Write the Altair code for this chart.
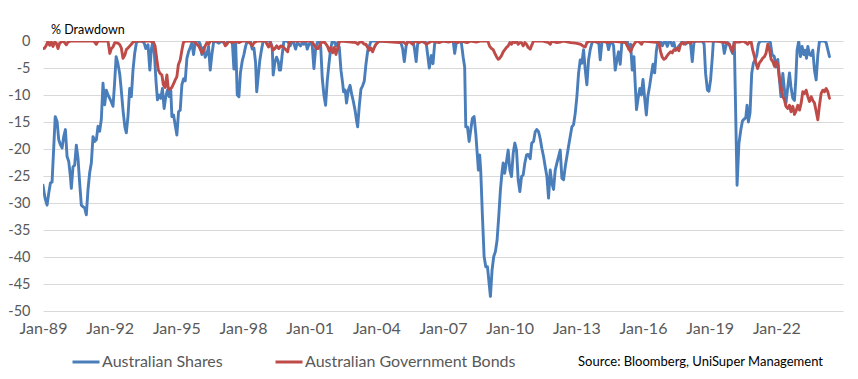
import json
import altair as alt
import pandas as pd

# ---- data (months since Jan-1989, drawdown %) ----
shares_t = [0, 1.1, 2.2, 3.1, 4.0, 4.9, 6.6, 7.6, 8.5, 9.4, 10.3, 11.2, 12.1, 13.0, 13.9, 14.8, 15.3, 16.2, 17.1, 18.0,
            18.9, 19.8, 20.7, 21.6, 22.5, 23.4, 24.3, 25.2, 26.1, 27.0, 27.9, 28.8, 29.7, 30.6, 31.5, 32.4, 33.3, 34.2,
            35.1, 36.0, 36.9, 37.8, 38.6, 39.5, 40.4, 41.4, 42.2, 43.2, 44.2, 45.0, 45.9, 46.8, 47.7, 48.6, 49.5, 50.4,
            51.3, 53.0, 54.6, 55.5, 56.7, 57.7, 58.5, 59.4, 60.2, 61.1, 61.8, 62.7, 63.6, 64.5, 65.4, 66.3, 67.2, 68.1,
            69.0, 69.6, 70.5, 71.4, 72.3, 73.2, 74.1, 75.0, 75.9, 76.8, 77.7, 78.6, 79.5, 80.4, 81.3, 82.2, 83.1, 84.0,
            84.9, 85.8, 86.7, 87.6, 88.5, 89.4, 90.3, 91.2, 92.1, 93.0, 95.0, 96.5, 98.5, 100.0, 102.2, 103.1, 104.0,
            104.9, 105.8, 106.6, 107.6, 108.5, 109.4, 110.3, 112.1, 113.0, 113.9, 114.8, 115.4, 116.2, 117.1, 118.0,
            118.9, 122.7, 123.8, 124.3, 125.2, 126.1, 127.0, 127.6, 128.3, 129.2, 130.1, 131.7, 132.6, 133.5, 134.4,
            135.3, 136.4, 137.3, 138.2, 139.1, 140.0, 140.9, 141.8, 142.7, 143.6, 144.5, 145.4, 146.3, 147.2, 148.1,
            149.0, 149.9, 150.8, 151.7, 152.6, 153.5, 154.4, 155.3, 156.2, 157.1, 158.2, 159.1, 160.0, 160.9, 161.8,
            162.3, 163.2, 163.9, 164.9, 165.8, 166.6, 167.6, 168.5, 169.4, 169.9, 170.8, 171.7, 172.6, 173.5, 174.4,
            175.3, 176.2, 177.1, 185.0, 193.0, 194.2, 195.1, 196.1, 196.9, 199.5, 200.4, 201.5, 202.3, 203.2, 206.9,
            207.7, 208.6, 209.7, 210.6, 211.5, 212.4, 221.5, 222.3, 223.2, 224.9, 225.9, 226.9, 227.7, 228.3, 229.2,
            230.1, 231.0, 231.9, 232.8, 233.7, 234.6, 235.1, 235.8, 236.4, 237.3, 238.2, 239.1, 240.0, 240.9, 241.6,
            242.5, 243.4, 244.3, 245.2, 246.1, 247.0, 247.9, 248.5, 249.3, 250.3, 251.2, 252.1, 253.0, 253.9, 254.8,
            255.7, 256.6, 257.5, 258.4, 259.3, 260.2, 261.1, 262.0, 263.1, 263.9, 264.9, 265.8, 266.6, 267.6, 268.5,
            269.4, 270.3, 271.2, 272.1, 273.0, 273.9, 274.8, 275.7, 276.6, 277.5, 278.4, 279.3, 280.2, 281.1, 282.0,
            282.9, 283.8, 284.7, 285.6, 286.5, 287.4, 288.3, 289.2, 290.1, 291.0, 291.9, 292.8, 293.7, 294.6, 295.5,
            296.4, 297.3, 299.6, 300.2, 300.9, 301.8, 302.7, 304.5, 305.4, 306.3, 307.2, 308.1, 309.0, 309.9, 310.8,
            311.7, 312.6, 313.5, 315.5, 316.4, 317.3, 318.2, 319.1, 319.6, 320.5, 321.5, 322.3, 323.1, 324.0, 324.9,
            325.8, 326.6, 327.6, 328.5, 329.4, 330.3, 331.2, 332.1, 333.5, 334.4, 335.3, 336.2, 337.1, 338.0, 338.9,
            339.8, 340.7, 341.6, 342.5, 343.4, 344.3, 345.2, 347.0, 347.9, 348.8, 349.7, 350.6, 351.5, 352.4, 356.1,
            357.0, 357.8, 358.8, 359.6, 360.5, 361.5, 362.0, 367.0, 367.9, 368.8, 369.7, 370.6, 371.5, 372.4, 373.3,
            374.8, 375.8, 376.8, 377.7, 378.5, 379.5, 380.2, 380.9, 381.8, 382.7, 383.6, 384.5, 385.4, 386.3, 387.2,
            391.9, 392.8, 393.7, 394.9, 395.8, 396.8, 397.7, 398.5, 399.5, 400.4, 401.2, 402.2, 403.1, 403.9, 404.9,
            405.8, 406.5, 407.2, 408.1, 409.0, 409.9, 410.8, 411.5, 412.3, 413.0, 413.9, 414.8, 415.7, 416.6, 417.5,
            418.4, 419.3, 422.0, 422.9, 423.8, 424.7]
shares_v = [-26.7, -29.1, -30.4, -28.2, -26.3, -26.1, -14.0, -14.9, -18.3, -19.2, -19.8, -17.7, -16.4, -21.4, -22.3,
            -25.1, -27.3, -23.3, -23.0, -19.3, -21.7, -26.3, -30.4, -30.7, -30.9, -32.2, -27.5, -24.4, -22.6, -17.7,
            -18.6, -18.3, -15.8, -16.7, -14.5, -7.8, -11.8, -9.1, -10.0, -10.6, -11.3, -12.1, -8.1, -2.9, -4.1, -6.0,
            -8.8, -12.8, -15.9, -17.0, -13.9, -8.8, -10.3, -5.4, -2.3, -0.4, 0, 0, -0.3, -1.4, -0.7, -5.4, -1.5, 0,
            -2.6, -7.8, -10.9, -10.0, -10.6, -8.8, -12.5, -10.3, -9.1, -10.3, -9.1, -14.0, -13.7, -15.6, -17.4, -13.1,
            -12.8, -8.1, -7.0, -7.4, -3.2, -2.0, -1.2, -0.3, -2.5, -0.3, 0, 0, -0.6, -2.5, -1.2, -3.0, -2.4, -1.0,
            -5.4, -2.5, -0.3, 0, -0.4, 0, -0.6, 0, 0, -5.2, 0, -10.0, -10.3, -5.9, -3.7, -2.5, -1.0, 0, -0.2, -1.5,
            -1.3, -4.0, -9.4, -6.6, -3.5, -1.6, 0, 0, -1.2, -6.3, -4.0, -3.0, -3.7, -5.4, -5.4, -2.4, 0, 0, -0.3,
            -0.9, 0, -0.3, -1.5, -0.3, -0.6, -0.9, -0.3, -0.6, 0, -1.5, -0.6, -0.3, -0.9, -5.1, -1.5, -0.3, 0, -0.6,
            -6.9, -10.0, -11.9, -7.4, -4.3, -1.5, 0, 0, -0.9, -0.3, -1.2, -5.4, -7.8, -9.4, -9.1, -11.5, -9.1, -8.2,
            -9.7, -11.2, -12.8, -14.9, -15.9, -12.0, -8.9, -8.3, -7.4, -4.3, -1.9, -1.0, 0, 0, 0, -1.4, -3.8, -0.9,
            0, 0, -1.0, -3.8, -0.6, 0, -0.3, -2.5, -5.0, -2.7, -4.2, -0.5, 0, 0, -2.3, -0.3, 0, -0.3, -3.0, -4.8,
            -15.9, -15.9, -18.6, -16.4, -14.3, -14.0, -17.1, -21.4, -23.9, -21.1, -24.2, -32.5, -39.9, -41.8, -41.8,
            -44.9, -47.3, -42.4, -39.9, -39.0, -36.9, -32.5, -27.6, -24.2, -22.6, -24.5, -22.3, -20.2, -23.9, -25.1,
            -20.8, -18.9, -20.2, -25.7, -27.9, -25.1, -24.8, -22.6, -21.1, -21.0, -21.8, -18.9, -18.6, -16.8, -16.4,
            -16.8, -18.1, -19.9, -21.4, -23.3, -25.1, -29.1, -23.9, -26.3, -27.5, -23.9, -22.6, -21.4, -20.2, -25.4,
            -25.7, -23.3, -21.4, -19.5, -17.7, -15.9, -15.5, -13.4, -10.3, -6.0, -3.5, -4.1, -1.6, -5.3, -8.1, -3.5,
            -1.6, -0.4, 0, -0.3, -0.6, -3.5, -0.3, 0, 0, -1.6, -0.3, 0, -0.9, -5.4, -3.5, -2.0, -4.3, -0.3, 0, 0,
            -1.5, -0.6, -5.4, -2.9, -6.6, -12.7, -10.3, -8.8, -10.0, -7.1, -10.6, -13.7, -10.3, -8.3, -6.2, -4.3,
            -5.9, -1.9, 0, 0, -0.9, -0.3, 0, -1.0, -0.2, 0, -0.9, -0.3, -1.7, -1.6, -0.9, -0.6, 0, -0.6, -0.3, 0,
            -0.6, -3.8, -0.3, 0, 0, -0.6, -6.0, -9.1, -9.3, -7.2, -2.7, 0, 0, -2.3, -0.9, -0.3, -0.6, -1.6, -2.3, 0,
            -26.7, -19.0, -16.5, -14.8, -14.5, -14.2, -11.9, -15.0, -13.3, -6.0, -4.1, -3.5, -2.7, -0.6, 0, 0, -0.3,
            -2.5, -2.9, -4.8, -3.4, -7.2, -10.3, -6.0, -9.1, -11.5, -8.5, -5.9, -8.5, -10.6, -11.0, -7.2, -1.7, 0,
            -2.9, -1.0, -2.5, -1.7, -3.2, -1.0, -2.5, -2.7, -1.7, -5.4, -7.2, -2.6, 0, 0, -0.3, -1.6, -2.9]

bonds_t = [0, 0.9, 1.8, 2.7, 3.6, 4.5, 5.4, 6.3, 7.2, 8.1, 9.0, 9.9, 11.0, 11.9, 12.6, 13.5, 15.1, 27.0, 27.9, 28.8,
           29.7, 35.1, 36.1, 36.9, 37.8, 38.8, 40.5, 41.5, 42.3, 43.2, 44.2, 45.0, 45.9, 46.9, 47.7, 48.6, 50.3, 57.8,
           59.6, 60.5, 61.5, 62.3, 63.2, 64.2, 65.0, 65.9, 66.9, 67.7, 68.6, 69.6, 70.4, 71.4, 72.3, 73.1, 74.1, 75.0,
           75.8, 76.8, 81.2, 82.2, 83.1, 84.0, 84.9, 85.8, 86.6, 87.6, 88.5, 89.4, 90.3, 97.5, 98.4, 99.3, 100.2, 102.2,
           104.0, 105.8, 107.6, 110.3, 112.1, 113.0, 114.0, 115.7, 120.0, 121.8, 122.7, 124.2, 125.2, 126.2, 127.3,
           128.4, 129.7, 131.4, 132.1, 133.2, 145.0, 146.7, 147.8, 148.7, 150.0, 152.0, 153.5, 154.6, 155.5, 156.4,
           157.3, 158.2, 159.1, 160.0, 161.0, 169.0, 170.0, 170.8, 171.7, 172.6, 173.5, 174.4, 175.3, 176.2, 177.1,
           178.0, 178.9, 179.8, 180.7, 181.6, 192.4, 193.9, 196.0, 197.5, 199.5, 201.0, 203.0, 205.0, 207.0, 208.5,
           210.0, 214.0, 216.0, 219.0, 221.0, 224.0, 226.0, 229.0, 231.0, 234.0, 236.0, 240.2, 241.2, 242.2, 243.1,
           244.0, 244.9, 245.8, 246.6, 247.6, 248.5, 249.4, 250.3, 251.2, 252.1, 253.0, 253.9, 254.8, 255.7, 256.6,
           257.5, 258.4, 259.3, 260.2, 261.1, 262.0, 263.1, 263.9, 264.9, 270.0, 273.0, 273.9, 274.8, 277.5, 279.3,
           281.0, 284.9, 287.6, 290.3, 291.9, 292.8, 293.7, 295.5, 300.0, 302.0, 305.0, 307.0, 314.6, 315.5, 316.4,
           317.3, 318.2, 319.1, 320.0, 321.0, 322.0, 323.2, 324.1, 332.6, 333.5, 334.4, 335.3, 336.2, 337.1, 338.0,
           338.9, 339.8, 340.7, 341.6, 342.5, 343.4, 344.3, 345.2, 346.1, 347.0, 347.9, 348.8, 349.7, 350.6, 364.0,
           367.0, 368.8, 370.6, 371.5, 372.4, 373.3, 374.2, 376.0, 378.0, 379.6, 380.5, 381.4, 382.3, 383.2, 384.2,
           385.0, 385.9, 386.8, 387.7, 388.6, 389.6, 390.4, 391.4, 392.3, 393.2, 394.1, 395.0, 395.8, 396.8, 397.7,
           398.5, 399.5, 400.4, 401.2, 402.2, 403.1, 403.9, 404.9, 405.8, 406.6, 407.6, 408.5, 409.4, 410.3, 411.2,
           412.1, 413.0, 413.9, 414.8, 415.7, 416.6, 417.5, 418.4, 419.3, 420.2, 421.1, 422.0, 422.9, 423.8, 424.7]
bonds_v = [-1.4, -1.3, -0.8, 0, -0.8, -0.2, -1.0, -0.2, -0.4, -1.4, -0.4, -0.2, 0, -0.4, -0.7, -0.2, 0, 0, -0.2, -0.6,
           0, 0, -2.3, -1.4, -1.1, -0.3, -0.4, -0.7, -1.3, -3.2, -2.6, -1.6, -1.3, -0.9, -0.6, -0.2, 0, 0, -0.2, -0.9,
           -3.5, -5.4, -6.0, -6.3, -8.1, -8.6, -6.3, -8.9, -8.9, -8.6, -8.0, -7.2, -6.6, -4.4, -3.5, -1.7, -0.3, 0, 0,
           -0.3, -0.6, -0.9, -1.5, -2.2, -1.9, -0.9, -0.3, -0.6, 0, 0, -0.9, -0.6, 0, -0.3, 0, -0.3, 0, 0, -0.5, -0.9,
           -0.3, 0, 0, -1.1, -0.3, -1.7, -1.4, -0.9, -1.4, -0.9, -1.1, -1.7, -2.0, 0, 0, -0.9, -1.4, -1.4, -0.3, -0.2,
           -0.9, -1.9, -1.2, -2.2, -1.2, -2.5, -1.3, -0.2, 0, -0.3, -0.6, -0.3, 0, -0.3, -0.6, -0.6, -1.2, -1.7, -1.3,
           -2.0, -1.2, -0.6, -0.3, 0, -0.3, 0, -0.6, 0, -0.6, 0, -0.3, 0, -0.6, -0.3, 0, -0.3, 0, -0.2, 0, -0.3, 0,
           -0.3, 0, -0.2, 0, 0, -1.0, -1.4, -1.6, -2.3, -2.9, -3.4, -3.2, -2.7, -2.0, -1.6, -1.2, -0.9, -0.3, -0.6, 0,
           -0.3, 0, -0.6, -0.3, -0.3, -0.9, -0.3, -0.6, -1.2, -1.5, -0.8, 0, 0, -0.3, -0.6, 0, -0.3, -0.2, 0, -0.3,
           -0.4, -0.6, -1.0, -1.1, -0.3, 0, -0.2, 0, -0.3, 0, -0.3, -0.9, -1.5, -2.0, -1.2, -0.6, -0.2, 0, -0.2, -0.6,
           0, -0.3, -2.0, -3.0, -3.4, -3.2, -2.7, -2.3, -2.0, -2.2, -1.6, -1.7, -1.3, -1.8, -0.6, -0.3, -0.6, -0.3,
           -0.3, -0.2, -0.4, 0, 0, -0.2, -0.3, -0.6, -1.3, -2.0, -0.3, -0.2, -0.2, 0, -0.3, -0.6, -0.2, 0, -1.6, -2.9,
           -4.1, -5.1, -4.1, -3.7, -3.2, -2.9, -2.3, -0.6, -1.6, -3.4, -3.8, -4.7, -3.8, -4.4, -6.9, -8.5, -10.3,
           -10.9, -12.1, -12.5, -11.9, -13.1, -12.1, -13.6, -13.0, -11.9, -12.8, -11.5, -9.4, -9.7, -9.1, -10.3,
           -11.2, -10.3, -11.0, -11.5, -13.0, -14.6, -11.9, -9.7, -9.1, -9.4, -8.8, -9.4, -10.6]

series_names = ["Australian Shares", "Australian Government Bonds"]
series_colors = ["#4A7EBB", "#BE4B48"]
tick_months = [0, 36, 72, 108, 144, 180, 216, 252, 288, 324, 360, 396]
tick_labels = ["Jan-89", "Jan-92", "Jan-95", "Jan-98", "Jan-01", "Jan-04", "Jan-07", "Jan-10",
               "Jan-13", "Jan-16", "Jan-19", "Jan-22"]
y_ticks = list(range(-50, 1, 5))
y_title = "% Drawdown"
source_note = "Source: Bloomberg, UniSuper Management"

FONT = "Lato"
GREY = "#595959"

shares = pd.DataFrame({"t": shares_t, "v": shares_v, "series": series_names[0]})
bonds = pd.DataFrame({"t": bonds_t, "v": bonds_v, "series": series_names[1]})

label_expr = json.dumps(tick_labels) + "[round(datum.value / 36)]"

x_enc = alt.X("t:Q", scale=alt.Scale(domain=[0, 432], nice=False, zero=False),
              axis=alt.Axis(values=tick_months, labelExpr=label_expr, grid=False, domain=False, ticks=False,
                            labelFont=FONT, labelFontSize=16, labelColor=GREY, labelPadding=9,
                            labelOverlap=False, labelFlush=False, title=None))
y_enc = alt.Y("v:Q", scale=alt.Scale(domain=[-50, 0], nice=False, zero=False),
              axis=alt.Axis(values=y_ticks, labelExpr="'' + datum.value", grid=True, gridColor="#D9D9D9",
                            gridWidth=1, domain=False, ticks=False, labelFont=FONT, labelFontSize=14.5,
                            labelColor=GREY, labelPadding=13, title=None))
color_enc = alt.Color("series:N",
                      scale=alt.Scale(domain=series_names, range=series_colors),
                      legend=alt.Legend(orient="none", legendX=28, legendY=306, direction="horizontal",
                                        title=None, symbolType="stroke", symbolSize=729,
                                        symbolStrokeWidth=3, labelFont=FONT, labelFontSize=16,
                                        labelColor=GREY, labelOffset=1, labelLimit=0,
                                        columnPadding=46, padding=0))

line_kw = dict(strokeWidth=2.9, strokeJoin="round", strokeCap="round", clip=True)
blue = alt.Chart(shares).mark_line(**line_kw).encode(x=x_enc, y=y_enc, color=color_enc)
red = alt.Chart(bonds).mark_line(**line_kw).encode(x=x_enc, y=y_enc, color=color_enc)

title_txt = alt.Chart(pd.DataFrame({"s": [y_title]})).mark_text(
    align="left", baseline="middle", font=FONT, fontSize=12.5, color="#000000"
).encode(x=alt.value(8), y=alt.value(-11), text="s:N")
src_txt = alt.Chart(pd.DataFrame({"s": [source_note]})).mark_text(
    align="right", baseline="middle", font=FONT, fontSize=13, color="#000000"
).encode(x=alt.value(780), y=alt.value(321), text="s:N")

chart = alt.layer(blue, red, title_txt, src_txt).properties(
    width=800, height=270,
    autosize=alt.AutoSizeParams(type="none"),
    padding={"left": 35, "top": 33, "right": 7, "bottom": 60},
    background="white",
).configure_view(stroke=None)

chart.save("out.html", embed_options={"renderer": "svg", "actions": False})
